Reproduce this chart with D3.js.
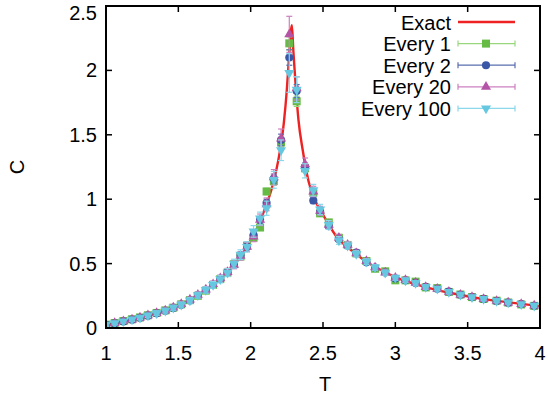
<!DOCTYPE html>
<html>
<head>
<meta charset="utf-8">
<script src="https://cdn.jsdelivr.net/npm/d3@7"></script>
<style>
  body { margin: 0; background: #fff; }
  svg text { font-family: "Liberation Sans", Arial, sans-serif; }
</style>
</head>
<body>
<svg id="chart" width="548" height="394"></svg>
<script>
// exact curve
const exactT = [1.0, 1.1, 1.2, 1.3, 1.4, 1.5, 1.6, 1.7, 1.8, 1.9, 2.0, 2.05, 2.1, 2.15, 2.2, 2.23, 2.25, 2.265, 2.285,
  2.295, 2.31, 2.33, 2.36, 2.4, 2.45, 2.5, 2.6, 2.7, 2.8, 2.9, 3.0, 3.2, 3.4, 3.6, 3.8, 4.0];
const exactC = [0.025, 0.046, 0.072, 0.10, 0.132, 0.175, 0.23, 0.30, 0.39, 0.51, 0.68, 0.79, 0.93, 1.10, 1.36, 1.6, 1.85, 2.1, 2.35,
  2.15, 1.9, 1.62, 1.38, 1.14, 0.98, 0.88, 0.70, 0.60, 0.515, 0.45, 0.395, 0.32, 0.268, 0.226, 0.197, 0.17];

// temperatures of the simulated points
const temps = [1.00, 1.06, 1.12, 1.18, 1.235, 1.29, 1.35, 1.41, 1.465, 1.52, 1.58, 1.635, 1.69, 1.74, 1.79, 1.84, 1.885,
  1.93, 1.975, 2.02, 2.065, 2.11, 2.16, 2.21, 2.267, 2.318, 2.376, 2.433, 2.48, 2.54, 2.61, 2.67, 2.73, 2.80, 2.86,
  2.93, 3.00, 3.07, 3.14, 3.21, 3.29, 3.37, 3.45, 3.53, 3.61, 3.70, 3.78, 3.87, 3.96];

const every1 = [0.026, 0.039, 0.054, 0.068, 0.082, 0.099, 0.117, 0.137, 0.158, 0.184, 0.216, 0.25, 0.29, 0.335, 0.38, 0.43, 0.495,
  0.555, 0.64, 0.70, 0.78, 1.06, 1.14, 1.44, 2.21, 1.76, 1.24, 1.05, 0.89, 0.82, 0.70, 0.645, 0.58, 0.52, 0.46,
  0.44, 0.37, 0.37, 0.36, 0.315, 0.31, 0.28, 0.26, 0.24, 0.225, 0.212, 0.198, 0.183, 0.172];
const every2 = [0.024, 0.037, 0.051, 0.065, 0.079, 0.096, 0.114, 0.134, 0.156, 0.18, 0.214, 0.256, 0.296, 0.336, 0.38, 0.432, 0.49,
  0.565, 0.63, 0.72, 0.84, 0.97, 1.16, 1.46, 2.10, 1.84, 1.25, 0.99, 0.90, 0.79, 0.69, 0.64, 0.585, 0.51, 0.47,
  0.43, 0.385, 0.37, 0.35, 0.32, 0.305, 0.282, 0.258, 0.24, 0.226, 0.21, 0.197, 0.186, 0.172];
const every20 = [0.025, 0.038, 0.052, 0.066, 0.081, 0.098, 0.116, 0.136, 0.158, 0.185, 0.22, 0.258, 0.298, 0.34, 0.385, 0.435, 0.49,
  0.56, 0.63, 0.71, 0.84, 0.96, 1.17, 1.47, 2.28, 1.86, 1.27, 1.06, 0.91, 0.80, 0.70, 0.645, 0.58, 0.52, 0.47,
  0.43, 0.39, 0.372, 0.35, 0.318, 0.305, 0.28, 0.258, 0.24, 0.225, 0.21, 0.198, 0.186, 0.174];
const every100 = [0.025, 0.038, 0.052, 0.066, 0.080, 0.097, 0.115, 0.135, 0.157, 0.182, 0.215, 0.255, 0.295, 0.335, 0.38, 0.43, 0.50,
  0.57, 0.63, 0.75, 0.85, 0.93, 1.15, 1.38, 1.98, 1.85, 1.22, 1.07, 0.92, 0.80, 0.68, 0.64, 0.575, 0.515, 0.47,
  0.43, 0.39, 0.37, 0.35, 0.318, 0.305, 0.28, 0.258, 0.24, 0.225, 0.21, 0.198, 0.185, 0.173];

// error bars
const err1 = [0.005, 0.005, 0.005, 0.006, 0.006, 0.007, 0.007, 0.008, 0.008, 0.009, 0.01, 0.01, 0.011, 0.012, 0.013, 0.014, 0.015,
  0.016, 0.018, 0.02, 0.022, 0.025, 0.03, 0.04, 0.05, 0.04, 0.025, 0.02, 0.016, 0.014, 0.012, 0.011, 0.01, 0.009, 0.008,
  0.008, 0.007, 0.007, 0.006, 0.006, 0.006, 0.005, 0.005, 0.005, 0.005, 0.005, 0.004, 0.004, 0.004];
const err2 = [0.006, 0.006, 0.006, 0.007, 0.007, 0.008, 0.008, 0.009, 0.01, 0.011, 0.012, 0.012, 0.013, 0.014, 0.015, 0.016, 0.018,
  0.02, 0.022, 0.024, 0.026, 0.03, 0.035, 0.045, 0.06, 0.05, 0.03, 0.024, 0.02, 0.017, 0.015, 0.013, 0.012, 0.011, 0.01,
  0.009, 0.009, 0.008, 0.008, 0.007, 0.007, 0.006, 0.006, 0.006, 0.006, 0.005, 0.005, 0.005, 0.005];
const err20 = [0.01, 0.01, 0.011, 0.012, 0.013, 0.014, 0.015, 0.016, 0.017, 0.018, 0.02, 0.021, 0.022, 0.024, 0.026, 0.028, 0.03,
  0.033, 0.036, 0.04, 0.045, 0.05, 0.06, 0.075, 0.14, 0.09, 0.05, 0.04, 0.035, 0.03, 0.027, 0.025, 0.022, 0.02, 0.019,
  0.018, 0.017, 0.016, 0.015, 0.014, 0.013, 0.012, 0.012, 0.011, 0.011, 0.01, 0.01, 0.01, 0.01];
const err100 = [0.012, 0.012, 0.013, 0.014, 0.015, 0.016, 0.017, 0.018, 0.019, 0.02, 0.022, 0.023, 0.025, 0.027, 0.029, 0.031, 0.034,
  0.037, 0.04, 0.045, 0.05, 0.055, 0.065, 0.08, 0.15, 0.1, 0.055, 0.045, 0.04, 0.034, 0.03, 0.027, 0.024, 0.022, 0.021,
  0.02, 0.019, 0.018, 0.017, 0.016, 0.015, 0.014, 0.013, 0.013, 0.012, 0.012, 0.011, 0.011, 0.011];

const xTicks = [1, 1.5, 2, 2.5, 3, 3.5, 4];
const yTicks = [0, 0.5, 1, 1.5, 2, 2.5];

const series = [
  { name: "Every 1", vals: every1, errs: err1, color: "#66bb44", bar: "#9ad67e", sym: d3.symbolSquare, size: 64, rot: 0 },
  { name: "Every 2", vals: every2, errs: err2, color: "#3a56a6", bar: "#5a6eb0", sym: d3.symbolCircle, size: 52, rot: 0 },
  { name: "Every 20", vals: every20, errs: err20, color: "#b454a6", bar: "#cc80c0", sym: d3.symbolTriangle, size: 44, rot: 0 },
  { name: "Every 100", vals: every100, errs: err100, color: "#66c8e0", bar: "#8ad8ea", sym: d3.symbolTriangle, size: 44, rot: 180 }
];

const svg = d3.select("#chart");
const pLeft = 106, pRight = 540, pTop = 6, pBottom = 328;

const x = d3.scaleLinear().domain([1, 4]).range([pLeft, pRight]);
const y = d3.scaleLinear().domain([0, 2.5]).range([pBottom, pTop]);

svg.append("defs").append("clipPath").attr("id", "clip")
  .append("rect").attr("x", pLeft).attr("y", pTop).attr("width", pRight - pLeft).attr("height", pBottom - pTop);

const plot = svg.append("g").attr("clip-path", "url(#clip)");

// Exact curve
const exact = exactT.map((t, i) => [t, exactC[i]]);
plot.append("path")
  .datum(exact)
  .attr("fill", "none")
  .attr("stroke", "#ee2222")
  .attr("stroke-width", 2.4)
  .attr("d", d3.line().x(d => x(d[0])).y(d => y(d[1])).curve(d3.curveMonotoneX));

// data points with error bars
series.forEach(s => {
  const g = plot.append("g");
  const pts = temps.map((t, i) => ({ t: t, c: s.vals[i], e: s.errs[i] }));
  const bars = g.selectAll("g.bar").data(pts).enter().append("g").attr("class", "bar")
    .attr("stroke", s.bar).attr("stroke-width", 1.2);
  bars.append("line")
    .attr("x1", d => x(d.t)).attr("x2", d => x(d.t))
    .attr("y1", d => y(d.c - d.e)).attr("y2", d => y(d.c + d.e));
  bars.append("line")
    .attr("x1", d => x(d.t) - 3).attr("x2", d => x(d.t) + 3)
    .attr("y1", d => y(d.c + d.e)).attr("y2", d => y(d.c + d.e));
  bars.append("line")
    .attr("x1", d => x(d.t) - 3).attr("x2", d => x(d.t) + 3)
    .attr("y1", d => y(d.c - d.e)).attr("y2", d => y(d.c - d.e));
  g.selectAll("path.pt").data(pts).enter().append("path").attr("class", "pt")
    .attr("d", d3.symbol().type(s.sym).size(s.size))
    .attr("transform", d => `translate(${x(d.t)},${y(d.c)}) rotate(${s.rot})`)
    .attr("fill", s.color);
});

// frame
svg.append("rect")
  .attr("x", pLeft).attr("y", pTop).attr("width", pRight - pLeft).attr("height", pBottom - pTop)
  .attr("fill", "none").attr("stroke", "#000").attr("stroke-width", 2);

// ticks, inward and mirrored
const tk = svg.append("g").attr("stroke", "#000").attr("stroke-width", 1.5);
xTicks.forEach(v => {
  tk.append("line").attr("x1", x(v)).attr("x2", x(v)).attr("y1", pBottom).attr("y2", pBottom - 6);
  tk.append("line").attr("x1", x(v)).attr("x2", x(v)).attr("y1", pTop).attr("y2", pTop + 6);
});
yTicks.forEach(v => {
  tk.append("line").attr("x1", pLeft).attr("x2", pLeft + 6).attr("y1", y(v)).attr("y2", y(v));
  tk.append("line").attr("x1", pRight).attr("x2", pRight - 6).attr("y1", y(v)).attr("y2", y(v));
});

svg.selectAll("text.xt").data(xTicks).enter().append("text").attr("class", "xt")
  .attr("x", d => x(d)).attr("y", 360)
  .attr("text-anchor", "middle").attr("font-size", 20)
  .text(d => d);

// the top label sits a little lower so that it stays inside the picture
svg.selectAll("text.yt").data(yTicks).enter().append("text").attr("class", "yt")
  .attr("x", 97).attr("y", d => Math.max(y(d), 13) + 7)
  .attr("text-anchor", "end").attr("font-size", 20)
  .text(d => d);

svg.append("text").attr("x", 325).attr("y", 391)
  .attr("text-anchor", "middle").attr("font-size", 20).text("T");
svg.append("text").attr("transform", "translate(24,167) rotate(-90)")
  .attr("text-anchor", "middle").attr("font-size", 20).text("C");

// legend
const legend = svg.append("g");
const lx0 = 458, lx1 = 515, lmid = 486;
const rows = [{ name: "Exact", color: "#ee2222" }].concat(series);
rows.forEach((r, i) => {
  const ly = 22 + i * 21.6;
  legend.append("text").attr("x", 451).attr("y", ly + 7.5)
    .attr("text-anchor", "end").attr("font-size", 20).text(r.name);
  if (!r.sym) {
    legend.append("line").attr("x1", lx0).attr("x2", lx1).attr("y1", ly).attr("y2", ly)
      .attr("stroke", r.color).attr("stroke-width", 2.4);
    return;
  }
  const lg = legend.append("g").attr("stroke", r.bar).attr("stroke-width", 1.2);
  lg.append("line").attr("x1", lx0).attr("x2", lx1).attr("y1", ly).attr("y2", ly);
  lg.append("line").attr("x1", lx0).attr("x2", lx0).attr("y1", ly - 3).attr("y2", ly + 3);
  lg.append("line").attr("x1", lx1).attr("x2", lx1).attr("y1", ly - 3).attr("y2", ly + 3);
  legend.append("path")
    .attr("d", d3.symbol().type(r.sym).size(r.size))
    .attr("transform", `translate(${lmid},${ly}) rotate(${r.rot})`)
    .attr("fill", r.color);
});
</script>
</body>
</html>
